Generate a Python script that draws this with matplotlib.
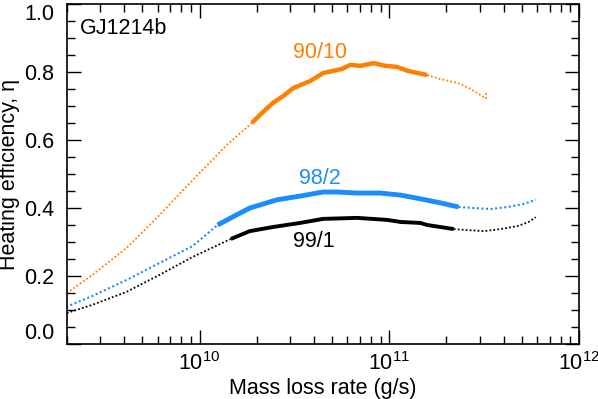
import numpy as np
import matplotlib.pyplot as plt
from matplotlib.ticker import MultipleLocator, LogLocator, NullFormatter

plt.rcParams['font.family'] = ['Liberation Sans', 'DejaVu Sans']

# log10 of mass loss rate (g/s) and heating efficiency
# 90/10
o_lo_x = [9.30, 9.434, 9.614, 9.788, 9.963, 10.143, 10.275]
o_lo_y = [0.150, 0.203, 0.282, 0.379, 0.482, 0.585, 0.650]
o_x = [10.275, 10.328, 10.386, 10.44, 10.494, 10.582, 10.652, 10.75, 10.794,
       10.847, 10.917, 10.98, 11.04, 11.10, 11.20]
o_y = [0.650, 0.679, 0.709, 0.729, 0.753, 0.773, 0.797, 0.809, 0.821,
       0.818, 0.826, 0.818, 0.815, 0.803, 0.791]
o_hi_x = [11.20, 11.27, 11.36, 11.43, 11.51, 11.51]
o_hi_y = [0.791, 0.779, 0.768, 0.750, 0.722, 0.742]

# 98/2
b_lo_x = [9.296, 9.434, 9.614, 9.788, 9.963, 10.095]
b_lo_y = [0.109, 0.141, 0.188, 0.238, 0.288, 0.350]
b_x = [10.095, 10.175, 10.265, 10.407, 10.529, 10.651, 10.725, 10.83, 10.95,
       11.058, 11.164, 11.27, 11.365]
b_y = [0.350, 0.374, 0.400, 0.424, 0.435, 0.447, 0.447, 0.444, 0.444,
       0.438, 0.427, 0.415, 0.403]
b_hi_x = [11.365, 11.444, 11.534, 11.624, 11.709, 11.772]
b_hi_y = [0.403, 0.400, 0.397, 0.403, 0.412, 0.424]

# 99/1
k_lo_x = [9.30, 9.35, 9.434, 9.614, 9.788, 9.963, 10.165]
k_lo_y = [0.091, 0.100, 0.115, 0.153, 0.203, 0.256, 0.309]
k_x = [10.165, 10.265, 10.386, 10.529, 10.651, 10.83, 10.989, 11.058, 11.164,
       11.20, 11.34]
k_y = [0.309, 0.332, 0.344, 0.356, 0.368, 0.371, 0.365, 0.359, 0.356,
       0.350, 0.338]
k_hi_x = [11.34, 11.41, 11.50, 11.587, 11.677, 11.735, 11.772]
k_hi_y = [0.338, 0.335, 0.332, 0.338, 0.347, 0.359, 0.373]

orange = '#ff8000'
blue = '#1a8cff'
fs = 15.5

fig = plt.figure(figsize=(5.98, 3.99), dpi=100)
ax = fig.add_axes([67/598, 1 - 344/399, 512/598, 340/399])

def seg(x, y, **kw):
    ax.plot(10**np.array(x), y, **kw)

dots = (0, (1, 1.2))
seg(o_lo_x, o_lo_y, color=orange, lw=1.3, ls=dots)
seg(o_x, o_y, color=orange, lw=3.2, solid_capstyle='butt')
seg(o_hi_x, o_hi_y, color=orange, lw=1.3, ls=dots)

seg(b_lo_x, b_lo_y, color=blue, lw=1.5, ls=dots)
seg(b_x, b_y, color=blue, lw=3.5, solid_capstyle='butt')
seg(b_hi_x, b_hi_y, color=blue, lw=1.5, ls=dots)

seg(k_lo_x, k_lo_y, color='black', lw=1.3, ls=dots)
seg(k_x, k_y, color='black', lw=2.8, solid_capstyle='butt')
seg(k_hi_x, k_hi_y, color='black', lw=1.3, ls=dots)

ax.text(10**10.635, 0.856, '90/10', color=orange, fontsize=fs, ha='center', va='center')
ax.text(10**10.635, 0.488, '98/2', color=blue, fontsize=fs, ha='center', va='center')
ax.text(10**10.60, 0.300, '99/1', color='black', fontsize=fs, ha='center', va='center')
ax.text(0.025, 0.96, 'GJ1214b', transform=ax.transAxes, fontsize=fs, ha='left', va='top')

ax.set_xscale('log')
ax.set_xlim(2e9, 1e12)
ax.set_ylim(0, 1.0)
ax.set_yticks([0.0, 0.2, 0.4, 0.6, 0.8, 1.0])
ax.set_yticklabels(['0.0', '0.2', '0.4', '0.6', '0.8', '1.0'])
ax.yaxis.set_minor_locator(MultipleLocator(0.05))
ax.xaxis.set_major_locator(LogLocator(base=10))
ax.xaxis.set_minor_locator(LogLocator(base=10, subs=np.arange(2, 10)))
ax.xaxis.set_minor_formatter(NullFormatter())

ax.tick_params(which='both', direction='in', top=True, right=True, labelsize=fs, width=1)
ax.tick_params(which='major', length=10, pad=9)
ax.tick_params(which='minor', length=6)
ax.tick_params(axis='x', which='major', pad=6)
for s in ax.spines.values():
    s.set_linewidth(1.2)

# end labels sit inside the axis range, as in the original
labs = ax.get_yticklabels()
labs[0].set_verticalalignment('bottom')
labs[-1].set_verticalalignment('top')

ax.set_xlabel('Mass loss rate (g/s)', fontsize=fs, labelpad=2)
ax.set_ylabel('Heating efficiency, η', fontsize=fs, labelpad=3)

fig.savefig('out.png', dpi=100)
